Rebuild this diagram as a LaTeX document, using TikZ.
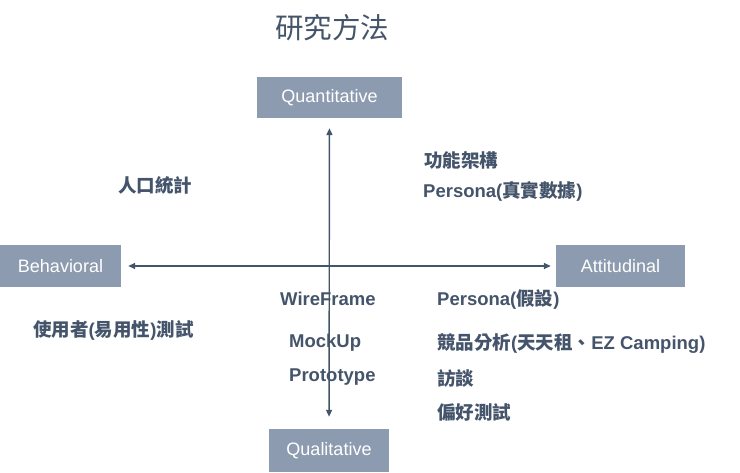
\documentclass[tikz,border=0pt]{standalone}
\usepackage{fontspec}
\setmainfont{Liberation Sans}
\newfontfamily\cjk{Noto Sans CJK TC}
\usetikzlibrary{arrows.meta}
\definecolor{slate}{HTML}{44546A}
\definecolor{boxgray}{HTML}{8D9BB0}
\newcommand{\zh}[1]{{\cjk #1}}
\tikzset{
  axisbox/.style={fill=boxgray, text=white, inner sep=0pt,
    font=\fontsize{18}{20}\selectfont},
  item/.style={anchor=west, inner sep=0pt, text=slate,
    font=\bfseries\fontsize{18.5}{20}\selectfont},
  axis/.style={draw=slate, line width=1.4pt, {Triangle[length=7pt,width=6pt]}-{Triangle[length=7pt,width=6pt]}}
}
\begin{document}
\begin{tikzpicture}[x=1pt, y=-1pt]
        \useasboundingbox (0,0) rectangle (740,473);

        \node [text=slate, font=\cjk\fontsize{28.5}{30}\selectfont] (title) at (332,28) {研究方法};

        \node [axisbox, minimum width=145pt, minimum height=41pt] (quant) at (329.5,97.5) {Quantitative};
        \node [axisbox, minimum width=120pt, minimum height=43pt] (qual) at (329,450.5) {Qualitative};
        \node [axisbox, minimum width=121pt, minimum height=42pt] (behav) at (60.5,266) {Behavioral};
        \node [axisbox, minimum width=129pt, minimum height=42pt] (attit) at (620.5,266) {Attitudinal};

        \node [item] (demo) at (118,185) {\zh{人口統計}};
        \node [item] (func) at (424,161) {\zh{功能架構}};
        \node [item] (realpersona) at (423,191) {Persona(\zh{真實數據})};
        \node [item] (wire) at (280,299) {WireFrame};
        \node [item] (guesspersona) at (437,299) {Persona(\zh{假設})};
        \node [item] (usability) at (33,330) {\zh{使用者}(\zh{易用性})\zh{測試}};
        \node [item] (mock) at (289,343) {MockUp};
        \node [item] (compete) at (437,343) {\zh{競品分析}(\zh{天天租、}EZ Camping)};
        \node [item] (proto) at (289,377) {Prototype};
        \node [item] (interview) at (437,378) {\zh{訪談}};
        \node [item] (pref) at (437,412) {\zh{偏好測試}};

        \draw [axis, shorten <=10pt, shorten >=12pt] (quant) -- (qual);
        \draw [axis, shorten <=7pt, shorten >=5pt] (behav) -- (attit);
      \end{tikzpicture}
\end{document}
